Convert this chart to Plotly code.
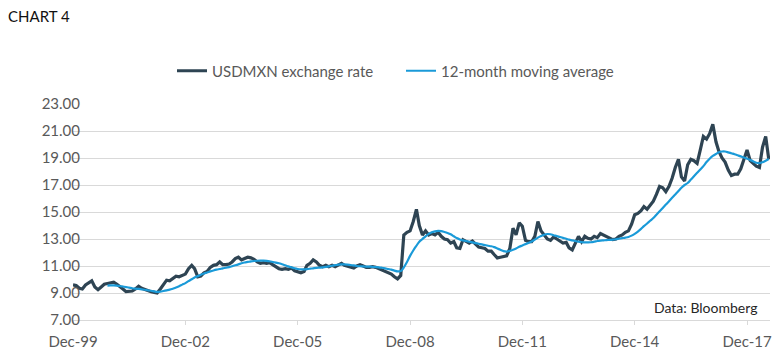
import pandas as pd
import plotly.graph_objects as go

# Monthly USDMXN readings from Dec-1999 to Jul-2018
rate = [
    9.6,
    9.55, 9.35, 9.3, 9.6, 9.75, 9.9, 9.45, 9.25, 9.45, 9.65, 9.7, 9.75,
    9.8, 9.65, 9.5, 9.3, 9.1, 9.1, 9.15, 9.3, 9.5, 9.35, 9.25, 9.15,
    9.1, 9.05, 9.0, 9.3, 9.6, 9.95, 9.9, 10.1, 10.25, 10.2, 10.3, 10.4,
    10.8, 11.05, 10.8, 10.2, 10.25, 10.5, 10.6, 10.9, 11.05, 11.1, 11.3, 11.1,
    11.1, 11.15, 11.3, 11.55, 11.65, 11.45, 11.55, 11.65, 11.6, 11.5, 11.3, 11.2,
    11.25, 11.2, 11.25, 11.1, 10.95, 10.8, 10.75, 10.8, 10.75, 10.85, 10.65, 10.55,
    10.5, 10.6, 11.05, 11.2, 11.45, 11.3, 11.05, 10.95, 11.05, 10.95, 11.05, 10.95,
    11.1, 11.2, 11.05, 11.0, 10.9, 10.85, 11.0, 11.1, 11.0, 10.9, 10.9, 10.95,
    10.9, 10.8, 10.7, 10.6, 10.5, 10.4, 10.2, 10.05, 10.3, 13.3, 13.5, 13.6,
    14.3, 15.2, 14.0, 13.3, 13.6, 13.3, 13.4, 13.3, 13.5, 13.2, 13.0, 12.95,
    12.7, 12.8, 12.35, 12.3, 12.95, 12.8, 12.7, 12.85, 12.6, 12.4, 12.35, 12.3,
    12.1, 12.1, 11.85, 11.6, 11.65, 11.7, 11.75, 12.3, 13.8, 13.3, 14.2, 13.95,
    12.9, 12.8, 12.8, 13.2, 14.3, 13.6, 13.3, 13.0, 12.9, 13.15, 13.0, 12.85,
    12.7, 12.75, 12.35, 12.2, 12.75, 13.2, 12.8, 13.2, 13.05, 13.0, 13.2, 13.1,
    13.4, 13.3, 13.15, 13.05, 12.95, 13.0, 13.2, 13.3, 13.5, 13.6, 14.1, 14.8,
    14.9, 15.1, 15.4, 15.2, 15.5, 15.8, 16.3, 16.9, 16.8, 16.5, 16.9, 17.5,
    18.3, 18.9, 17.6, 17.3, 18.5, 18.9, 18.8, 18.6, 19.6, 20.6, 20.4, 20.8,
    21.5, 20.2, 19.5, 19.0, 18.7, 18.1, 17.7, 17.8, 17.8, 18.2, 18.9, 19.6,
    18.8, 18.6, 18.4, 18.3, 19.8, 20.6, 18.9,
]

# 12-month moving average readings, Nov-2000 to Jul-2018
moving_avg = [
    9.55, 9.56, 9.57, 9.55, 9.52, 9.48, 9.44, 9.4, 9.35, 9.32, 9.3, 9.27, 9.24, 9.2,
    9.17, 9.12, 9.08, 9.1, 9.15, 9.2, 9.25, 9.32, 9.4, 9.5, 9.62, 9.73,
    9.88, 10.02, 10.15, 10.25, 10.35, 10.45, 10.52, 10.6, 10.67, 10.73, 10.78, 10.83,
    10.87, 10.92, 10.98, 11.05, 11.12, 11.2, 11.26, 11.3, 11.34, 11.37, 11.39, 11.4,
    11.4, 11.38, 11.35, 11.3, 11.25, 11.2, 11.13, 11.05, 10.97, 10.9, 10.83, 10.78,
    10.75, 10.75, 10.77, 10.8, 10.83, 10.86, 10.88, 10.9, 10.93, 10.97, 11.02, 11.06,
    11.1, 11.12, 11.12, 11.1, 11.07, 11.04, 11.0, 10.98, 10.97, 10.96, 10.95, 10.94,
    10.92, 10.9, 10.87, 10.83, 10.78, 10.73, 10.66, 10.6, 10.62, 10.9, 11.3, 11.75,
    12.15, 12.5, 12.8, 13.0, 13.2, 13.38, 13.5, 13.57, 13.6, 13.58, 13.52, 13.45,
    13.35, 13.2, 13.07, 12.97, 12.9, 12.85, 12.8, 12.75, 12.7, 12.65, 12.6, 12.55,
    12.5, 12.46, 12.4, 12.3, 12.2, 12.1, 12.07, 12.12, 12.2, 12.3, 12.42, 12.52,
    12.62, 12.72, 12.82, 12.95, 13.1, 13.22, 13.32, 13.37, 13.35, 13.28, 13.22, 13.15,
    13.08, 13.02, 12.95, 12.9, 12.85, 12.8, 12.77, 12.75, 12.75, 12.76, 12.8, 12.85,
    12.88, 12.9, 12.92, 12.93, 12.95, 12.98, 13.02, 13.06, 13.1, 13.15, 13.25, 13.38,
    13.55, 13.75, 13.95, 14.15, 14.35, 14.55, 14.8, 15.05, 15.3, 15.55, 15.8, 16.05,
    16.3, 16.55, 16.8, 17.0, 17.15, 17.4, 17.65, 17.9, 18.15, 18.4, 18.7, 18.95,
    19.15, 19.3, 19.42, 19.48, 19.48, 19.42, 19.35, 19.28, 19.2, 19.12, 19.03, 18.95,
    18.85, 18.75, 18.65, 18.62, 18.68, 18.8, 18.92,
]

tick_dates = ["1999-12-01", "2002-12-01", "2005-12-01", "2008-12-01",
              "2011-12-01", "2014-12-01", "2017-12-01"]
tick_labels = ["Dec-99", "Dec-02", "Dec-05", "Dec-08", "Dec-11", "Dec-14", "Dec-17"]

dates = pd.date_range(start="1999-12-01", periods=len(rate), freq="MS")
ma_dates = dates[len(dates) - len(moving_avg):]

FONT = "Lato"
GREY = "#595959"
W, H = 783, 356
L, R, T, B = 60, 13, 104, 36
PW, PH = W - L - R, H - T - B
PLOT_LEFT = 73          # pixel where the plotting area begins
LABEL_AXIS = 80         # pixel at which the y axis (labels) is anchored
XD0 = (PLOT_LEFT - L) / PW

fig = go.Figure()
fig.add_trace(go.Scatter(
    x=dates, y=rate, mode="lines", name="USDMXN exchange rate",
    line=dict(color="#2e4453", width=3.2),
))
fig.add_trace(go.Scatter(
    x=ma_dates, y=moving_avg, mode="lines", name="12-month moving average",
    line=dict(color="#1a9ad8", width=2.2, shape="spline"),
))

fig.update_layout(
    width=W, height=H,
    margin=dict(l=L, r=R, t=T, b=B, autoexpand=False),
    paper_bgcolor="white", plot_bgcolor="white",
    font=dict(family=FONT, size=15, color=GREY),
    title=dict(text="CHART 4", x=8 / W, xref="container", xanchor="left",
               y=1 - 17 / H, yref="container", yanchor="middle",
               font=dict(family=FONT, size=15, color="#111111")),
    legend=dict(orientation="h", xref="paper", yref="paper",
                x=(172 - L) / PW, xanchor="left",
                y=(T - 71) / PH + 1, yanchor="middle",
                font=dict(family=FONT, size=15, color=GREY),
                itemwidth=30, entrywidth=184, entrywidthmode="pixels",
                tracegroupgap=0),
    showlegend=True,
)
fig.update_xaxes(
    type="date", range=["1999-12-01", "2018-07-13"], domain=[XD0, 1],
    tickvals=tick_dates, ticktext=tick_labels,
    showgrid=False, showline=True, linecolor="#d9d9d9", linewidth=1,
    ticks="outside", ticklen=4, tickcolor="#d9d9d9",
    ticklabelstandoff=4,
    tickfont=dict(family=FONT, size=15, color=GREY),
)
fig.update_yaxes(
    range=[7, 23], dtick=2, tick0=7, tickformat=".2f",
    anchor="free", position=(LABEL_AXIS - L) / PW,
    showgrid=True, gridcolor="#d9d9d9", gridwidth=1,
    zeroline=False, showline=False, ticks="",
    tickfont=dict(family=FONT, size=15, color=GREY),
)
fig.add_annotation(
    text="Data: Bloomberg", xref="paper", yref="paper",
    x=(759 - L) / PW, y=0.01, xanchor="right", yanchor="bottom",
    showarrow=False, font=dict(family=FONT, size=14, color="#262626"),
)

fig.write_html(
    "out.html",
    config={"displayModeBar": False},
    post_script="document.body.style.margin='0';document.body.style.overflow='hidden';",
)
